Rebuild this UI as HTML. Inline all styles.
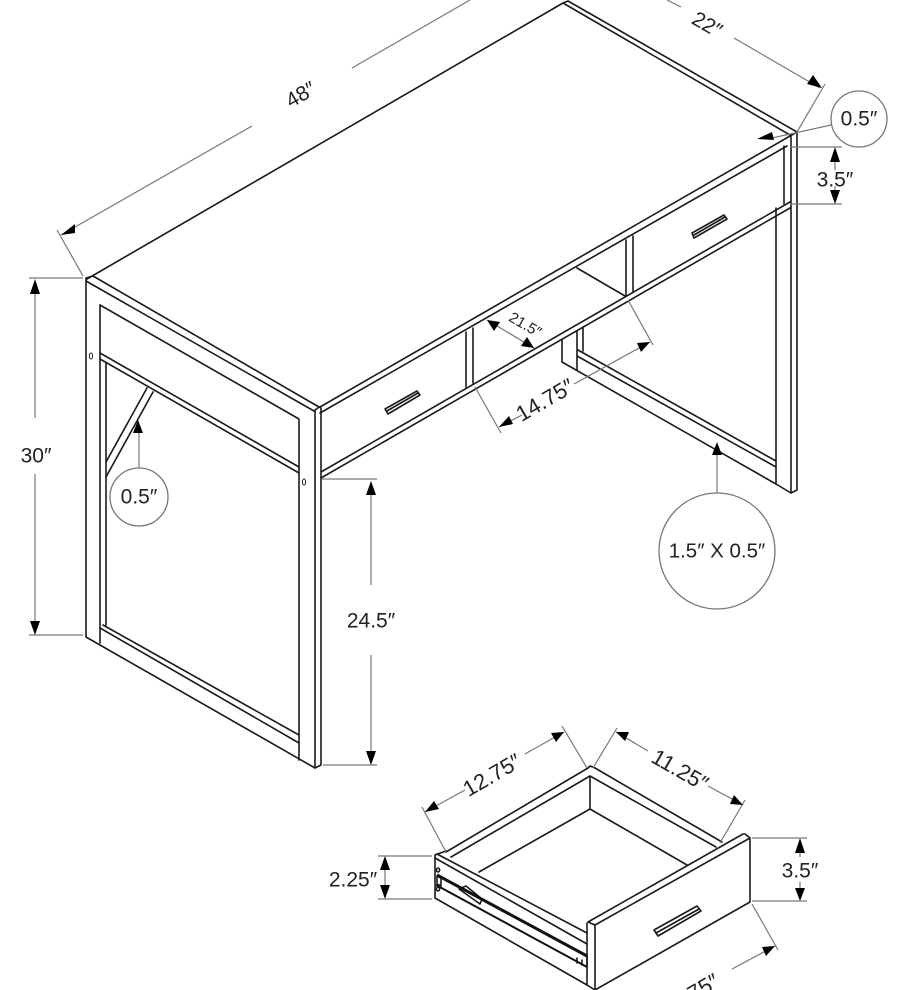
<!DOCTYPE html>
<html>
<head>
<meta charset="utf-8">
<style>
html,body{margin:0;padding:0;background:#fff;width:908px;height:990px;overflow:hidden}
svg{display:block}
.k{stroke:#1a1a1a;stroke-width:1.6;fill:none;stroke-linejoin:round;stroke-linecap:round}
.g{stroke:#777;stroke-width:1.2;fill:none}
.c{stroke:#777;stroke-width:1.3;fill:#fff}
.a{fill:#000;stroke:none}
text{font-family:"Liberation Sans",sans-serif;fill:#222;text-anchor:middle;dominant-baseline:central}
</style>
</head>
<body>
<svg width="908" height="990" viewBox="0 0 908 990" xmlns="http://www.w3.org/2000/svg">
<!-- table top -->
<g class="k">
<path d="M87 279L563 3"/>
<path d="M563 3L790 135M568 1L797 132M563 3L568 1"/>
<path d="M86 278L93 276L319 407M86 281L314 411M314 411L319 407"/>
<path d="M320 407L790 136L797 132M320 413L787 146"/>
<!-- left panel -->
<path d="M86 279V637L315 768L321 765V408L319 407"/>
<path d="M315 411V768"/>
<path d="M100 305V643"/>
<path d="M100 305L299 419V760"/>
<path d="M100 353L299 467M100 359L299 473"/>
<path d="M106 363V625"/>
<path d="M147 388L106 462M153 392L106 477"/>
<path d="M103 625L299 735M100 628L299 743"/>
<!-- front rail -->
<path d="M321 472L790 202M321 478L790 208"/>
<path d="M466 332V387M473 328V383"/>
<path d="M626 240V295M633 236V292"/>
<path d="M577 268L625 296"/>
<path d="M385 409L417 391L420 395L388 414ZM387 411L418 393"/>
<path d="M692 233L724 215L727 219L694 238ZM694 235L725 217"/>
<!-- right leg -->
<path d="M791 136V493L797 490V132"/>
<path d="M784 146V204"/>
<path d="M776 208V484L791 493"/>
<path d="M562 340V362L776 484"/>
<path d="M577 331V370"/>
<path d="M583 327V351"/>
<path d="M578 350L776 461M577 356L776 467"/>
<!-- drawer -->
<path d="M446 852L588 768L590 766L595 768L722 842"/>
<path d="M451 857L590 776L716 847"/>
<path d="M590 776V809"/>
<path d="M479 872L590 809L687 865"/>
<path d="M435 855L446 851M435 855V898L587 985L595 990L750 902V838L745 834L743 834L588 922L595 925L750 838"/>
<path d="M587 923V985M595 925V990"/>
<path d="M437 854L587 933M435 858L587 944"/>
<path d="M587 967V955"/>
<path d="M654 930L697 906L701 911L658 936ZM656 933L699 909"/>
<path d="M459 889L466 886L482 899L480 904Z"/>
<ellipse cx="438" cy="870" rx="1.6" ry="2"/>
<ellipse cx="438" cy="889" rx="1.6" ry="2"/>
<path d="M437 876V884L441 886V878Z"/>
<path d="M577 958V963M582 960V965"/>
</g>
<path d="M437 875L587 956" stroke="#111" stroke-width="3" fill="none"/>
<path d="M436 885L587 967" stroke="#111" stroke-width="2" fill="none"/>
<g fill="#fff" stroke="#222" stroke-width="1">
<ellipse cx="91" cy="356" rx="1.6" ry="3"/>
<ellipse cx="304" cy="482" rx="1.6" ry="3"/>
</g>
<!-- dimension lines -->
<g class="g">
<path d="M57 230L83 276M61 235L252 126M352 68L470 0"/>
<path d="M667 0L681 7M734 38L820 88M825 84L797 132"/>
<path d="M831 125L772 138"/>
<path d="M790 147H842M790 204H842M835 162V170M835 186V190"/>
<path d="M29 278H83M29 635H83M35 294V418M35 474V621"/>
<path d="M322 479H377M323 765H377M371 495V585M371 655V751"/>
<path d="M139 468V432"/>
<path d="M717 494V454"/>
<path d="M487 320L534 348"/>
<path d="M475 387L501 433M628 300L653 345M499 427L522 415M574 384L650 342"/>
<path d="M422 807L446 852M425 812L465 790M525 754L564 732M562 726L587 768"/>
<path d="M617 728L593 768M616 732L648 751M708 786L743 805M745 800L720 843"/>
<path d="M752 838H807M752 901H807M800 853V857M800 882V888"/>
<path d="M752 904L778 950M732 969L775 946"/>
<path d="M378 856H432M378 899H432M385 870V885"/>
</g>
<!-- arrowheads -->
<g class="a">
<path d="M61 235L75 224L75 233Z"/>
<path d="M822 88L807 84L813 75Z" />
<path d="M757 139L772 132L774 140Z"/>
<path d="M835 147L840 162H830Z"/>
<path d="M835 204L830 190H840Z"/>
<path d="M35 279L40 294H30Z"/>
<path d="M35 635L30 621H40Z"/>
<path d="M371 481L376 495H366Z"/>
<path d="M371 765L366 751H376Z"/>
<path d="M138 420L143 433H133Z"/>
<path d="M717 442L722 455H712Z"/>
<path d="M487 320L500 322L494 331Z"/>
<path d="M534 348L521 346L527 337Z"/>
<path d="M499 427L509 416L513 424Z"/>
<path d="M650 342L637 343L641 352Z"/>
<path d="M425 812L434 801L439 809Z"/>
<path d="M564 732L551 733L556 742Z"/>
<path d="M616 732L629 732L625 741Z"/>
<path d="M743 805L730 804L734 795Z"/>
<path d="M800 838L805 853H795Z"/>
<path d="M800 901L795 888H805Z"/>
<path d="M775 946L762 947L766 956Z"/>
<path d="M385 856L390 870H380Z"/>
<path d="M385 899L380 885H390Z"/>
</g>
<!-- circles -->
<circle class="c" cx="859" cy="119" r="28"/>
<circle class="c" cx="139" cy="497" r="29"/>
<circle class="c" cx="717" cy="551" r="58"/>
<!-- labels -->
<g font-size="21">
<text transform="translate(301 95) rotate(-30)">48″</text>
<text transform="translate(707 25) rotate(30)">22″</text>
<text x="859" y="119">0.5″</text>
<text x="835" y="180">3.5″</text>
<text x="36" y="456">30″</text>
<text x="371" y="621">24.5″</text>
<text x="139" y="497">0.5″</text>
<text x="717" y="551" font-size="20.5">1.5″ X 0.5″</text>
<text transform="translate(525 325) rotate(30)" font-size="15">21.5″</text>
<text transform="translate(545 400) rotate(-30)" font-size="22">14.75″</text>
<text transform="translate(492 775) rotate(-30)" font-size="22">12.75″</text>
<text transform="translate(680 770) rotate(30)" font-size="22">11.25″</text>
<text x="800" y="871">3.5″</text>
<text x="353" y="880">2.25″</text>
<text transform="translate(690 995) rotate(-30)" font-size="22">14.75″</text>
</g>
</svg>
</body>
</html>
